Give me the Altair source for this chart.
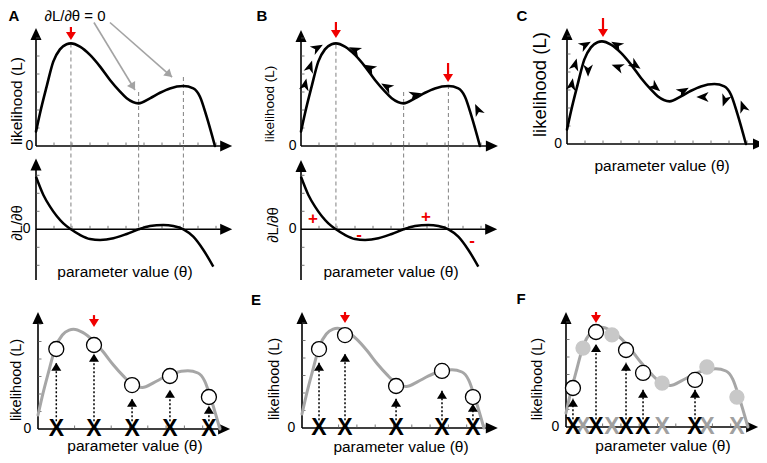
import math
import altair as alt
import pandas as pd

FONT = "Liberation Sans"

# ---------------- values ----------------
# likelihood curve L(theta)
curve_theta = [0.0, 0.22, 0.59, 0.96, 1.33, 1.70, 1.94, 2.44, 3.00, 3.56, 4.11, 4.67,
               5.04, 5.70, 6.33, 6.89, 7.44, 8.19, 8.74, 9.11, 9.48, 9.94]
curve_L = [0.80, 1.81, 3.30, 4.69, 5.37, 5.65, 5.70, 5.52, 5.06, 4.41, 3.67, 3.02,
           2.65, 2.37, 2.65, 2.96, 3.20, 3.33, 3.20, 2.74, 1.63, 0.00]

# derivative dL/dtheta
deriv_theta = [0.0, 0.41, 0.78, 1.15, 1.52, 1.94, 2.44, 3.00, 3.56, 4.30, 5.04, 5.70,
               6.33, 7.07, 7.63, 8.19, 8.74, 9.30, 9.85]
deriv_val = [2.92, 1.91, 1.26, 0.74, 0.33, 0.00, -0.31, -0.54, -0.59, -0.50, -0.26, 0.00,
             0.18, 0.24, 0.18, 0.00, -0.41, -1.15, -2.07]

# stationary points (dL/dtheta = 0) and the top of their guides
stat_theta = [1.94, 5.70, 8.19]
guide_top_A = [5.70, 3.00, 3.83]
guide_top_B = [5.62, 3.00, 3.39]

# red arrows marking the maxima found
red_panel = ["A", "B", "B", "C", "D", "E", "F"]
red_theta = [1.94, 1.94, 8.17, 2.00, 3.06, 2.35, 1.64]
red_top = [6.61, 6.89, 4.61, 7.00, 6.51, 6.63, 6.57]
red_tip = [5.89, 6.00, 3.56, 5.94, 5.83, 6.00, 5.94]

# signs of the derivative (panel B)
sign_text = ["+", "-", "+", "-"]
sign_theta = [0.67, 3.22, 6.94, 9.50]
sign_val = [0.57, -0.32, 0.68, -0.65]

# hill-climbing steps (direction in degrees, clockwise from up)
chevB_theta = [0.22, 0.50, 0.89, 3.00, 3.83, 4.78, 6.33, 9.83]
chevB_L = [3.39, 4.39, 5.44, 5.33, 4.33, 3.28, 2.83, 2.00]
chevB_dir = [12, 18, 60, 295, 300, 300, 75, 335]

chevC_theta = [0.26, 0.44, 1.00, 1.17, 2.78, 2.83, 3.78, 4.89, 6.44, 7.56, 8.78, 9.78]
chevC_L = [3.28, 4.39, 5.50, 4.11, 5.50, 4.28, 4.39, 3.17, 2.94, 2.61, 2.44, 2.06]
chevC_dir = [10, 15, 60, 180, 300, 290, 125, 130, 60, 270, 200, 340]

# sampled parameter values (D, E, F)
D_theta = [1.00, 3.06, 5.14, 7.21, 9.34]
D_L = [4.57, 4.80, 2.51, 3.03, 1.83]
D_tip = [3.78, 4.30, 1.73, 2.24, 1.33]
E_theta = [0.93, 2.35, 5.14, 7.65, 9.34]
E_L = [4.51, 5.31, 2.40, 3.26, 1.77]
E_tip = [3.73, 4.24, 1.67, 2.13, 1.38]
F_theta = [0.38, 1.64, 3.28, 4.21, 7.05]
F_L = [2.23, 5.43, 4.40, 3.09, 2.69]
F_tip = [1.61, 4.75, 3.67, 2.13, 2.13]
F_prev_theta = [0.93, 2.51, 5.25, 7.70, 9.34]
F_prev_L = [4.51, 5.26, 2.51, 3.43, 1.71]

# ---------------- layout: each panel's scale origin / unit size ----------------
PAD = 8
OFF = 8 + PAD  # page margin + padding
PANELS = {
    "A": dict(ox=36, oy=146, kx=18, ky=18),
    "Ad": dict(ox=36, oy=229.3, kx=18, ky=18),
    "B": dict(ox=301, oy=146, kx=18, ky=18),
    "Bd": dict(ox=301, oy=229.3, kx=18, ky=18),
    "C": dict(ox=567, oy=144, kx=18, ky=18),
    "D": dict(ox=38, oy=429, kx=18.3, ky=17.5),
    "E": dict(ox=302, oy=428, kx=18.3, ky=17.5),
    "F": dict(ox=566, oy=427, kx=18.3, ky=17.5),
}

ARROW = "M0,0 L0.85,1.85 L-0.85,1.85 Z"
HEAD = "M0,0 L1,1.6 L-1,1.6 Z"
CHEV = "M0,-1.1 L0.8,0.9 L0,0.35 L-0.8,0.9 Z"

layers = []


def add(p, data, mark, x="x", y="y", x2=None, y2=None, **enc):
    P = PANELS[p]
    ox, oy = P["ox"] - OFF, P["oy"] - OFF
    xs = alt.Scale(domain=[0, 1], range=[ox, ox + P["kx"]], nice=False, zero=False)
    ys = alt.Scale(domain=[0, 1], range=[oy, oy - P["ky"]], nice=False, zero=False)
    e = dict(x=alt.X(f"{x}:Q", scale=xs, axis=None),
             y=alt.Y(f"{y}:Q", scale=ys, axis=None))
    if x2:
        e["x2"] = alt.X2(f"{x2}:Q")
    if y2:
        e["y2"] = alt.Y2(f"{y2}:Q")
    e.update(enc)
    layers.append(alt.Chart(pd.DataFrame(data), mark=alt.MarkDef(**mark)).encode(**e))


def txt(p, x, y, s, size, **kw):
    add(p, {"x": [x], "y": [y], "t": [s]},
        dict(type="text", font=FONT, fontSize=size, color="black", **kw),
        text=alt.Text("t:N"))


def axes(p, xmax, ymin, ymax, yt):
    P = PANELS[p]
    add(p, {"x": [0], "x2": [xmax - 4 / P["kx"]], "y": [0]},
        dict(type="rule", color="black", strokeWidth=1.6), x2="x2")
    add(p, {"x": [0], "y": [ymin], "y2": [ymax - 4 / P["ky"]]},
        dict(type="rule", color="black", strokeWidth=1.6), y2="y2")
    add(p, {"x": [xmax, 0], "y": [0, ymax], "a": [90, 0]},
        dict(type="point", shape=ARROW, size=169, filled=True, color="black",
             opacity=1, strokeWidth=0),
        angle=alt.Angle("a:Q", scale=None))
    xt = list(range(1, 11))
    add(p, {"x": xt, "y": [0] * len(xt), "y2": [3.5 / P["ky"]] * len(xt)},
        dict(type="rule", color="#555", strokeWidth=0.8), y2="y2")
    add(p, {"x": [0] * len(yt), "x2": [3.5 / P["kx"]] * len(yt), "y": yt},
        dict(type="rule", color="#555", strokeWidth=0.8), x2="x2")


def curve(p, color, width):
    add(p, {"x": curve_theta, "y": curve_L},
        dict(type="line", color=color, strokeWidth=width, interpolate="monotone",
             strokeCap="round", strokeJoin="round"))


def deriv(p):
    add(p, {"x": deriv_theta, "y": deriv_val},
        dict(type="line", color="black", strokeWidth=2.5, interpolate="monotone"))


def guides(p, pd_, tops):
    add(p, {"x": stat_theta, "y": tops, "y2": [0] * 3},
        dict(type="rule", color="#8c8c8c", strokeWidth=1.1, strokeDash=[4, 3]), y2="y2")
    add(pd_, {"x": stat_theta, "y": [4.6] * 3, "y2": [0] * 3},
        dict(type="rule", color="#8c8c8c", strokeWidth=1.1, strokeDash=[4, 3]), y2="y2")


def red_arrows(p):
    idx = [i for i, q in enumerate(red_panel) if q == p]
    P = PANELS[p]
    xs = [red_theta[i] for i in idx]
    add(p, {"x": xs, "y": [red_top[i] for i in idx],
            "y2": [red_tip[i] + 5 / P["ky"] for i in idx]},
        dict(type="rule", color="#f00000", strokeWidth=2.2), y2="y2")
    add(p, {"x": xs, "y": [red_tip[i] for i in idx], "a": [180] * len(idx)},
        dict(type="point", shape=HEAD, size=100, filled=True, color="#f00000",
             opacity=1, strokeWidth=0),
        angle=alt.Angle("a:Q", scale=None))


def chevrons(p, xs, ys, dirs):
    add(p, {"x": xs, "y": ys, "a": dirs},
        dict(type="point", shape=CHEV, size=150, filled=True, color="black",
             opacity=1, strokeWidth=0),
        angle=alt.Angle("a:Q", scale=None))


def samples(p, xs, ls, tips, grey=False):
    n = len(xs)
    col = "#a0a0a0" if grey else "black"
    if not grey:
        add(p, {"x": xs, "y": [0.45] * n, "y2": tips},
            dict(type="rule", color="black", strokeWidth=1.5, strokeDash=[2, 2]), y2="y2")
        add(p, {"x": xs, "y": tips},
            dict(type="point", shape=HEAD, size=100, filled=True, color="black",
                 opacity=1, strokeWidth=0))
    add(p, {"x": xs, "y": [0] * n, "t": ["X"] * n},
        dict(type="text", font=FONT, fontSize=23, fontWeight="bold", color=col,
             baseline="middle", align="center"),
        text=alt.Text("t:N"))
    if grey:
        add(p, {"x": xs, "y": ls},
            dict(type="point", shape="circle", size=235, filled=True, color="#c8c8c8",
                 opacity=1, strokeWidth=0))
    else:
        add(p, {"x": xs, "y": ls},
            dict(type="point", shape="circle", size=225, fill="white", stroke="black",
                 strokeWidth=1.3, opacity=1, fillOpacity=1))


# ---------------- panel A ----------------
axes("A", 10.9, 0, 6.56, [1, 2, 3, 4, 5, 6])
axes("Ad", 10.9, -2.82, 3.94, [-2, -1, 1, 2, 3])
guides("A", "Ad", guide_top_A)
curve("A", "black", 2.6)
deriv("Ad")
red_arrows("A")
# pointers from the label to the stationary points
ptr_x = [3.22, 4.11]
ptr_y = [6.86, 6.86]
ptr_x2 = [5.50, 7.56]
ptr_y2 = [3.11, 3.83]
ptr_a = [math.degrees(math.atan2((b - a) * 18, (d - c) * 18))
         for a, b, c, d in zip(ptr_x, ptr_x2, ptr_y, ptr_y2)]
add("A", {"x": ptr_x, "y": ptr_y, "x2": ptr_x2, "y2": ptr_y2},
    dict(type="rule", color="#a3a3a3", strokeWidth=1.6), x2="x2", y2="y2")
add("A", {"x": ptr_x2, "y": ptr_y2, "a": ptr_a},
    dict(type="point", shape=HEAD, size=90, filled=True, color="#a3a3a3",
         opacity=1, strokeWidth=0),
    angle=alt.Angle("a:Q", scale=None))
txt("A", -1.22, 7.2, "A", 15, fontWeight="bold", baseline="middle", align="center")
txt("A", 2.17, 7.2, "\u2202L/\u2202\u03b8 = 0", 15, baseline="middle", align="center")
txt("A", -1.08, 2.5, "likelihood (L)", 15.5, angle=270, baseline="middle", align="center")
txt("A", -0.15, 0, "0", 14, baseline="middle", align="right")
txt("Ad", -1.06, 0.35, "\u2202L/\u2202\u03b8", 15, angle=270, baseline="middle", align="center")
txt("Ad", -0.3, 0, "0", 14, baseline="middle", align="right")
txt("Ad", 4.94, -2.37, "parameter value (\u03b8)", 15.5, baseline="middle", align="center")

# ---------------- panel B ----------------
axes("B", 10.94, 0, 6.44, [1, 2, 3, 4, 5, 6])
axes("Bd", 10.9, -2.82, 3.85, [-2, -1, 1, 2, 3])
guides("B", "Bd", guide_top_B)
curve("B", "black", 2.6)
deriv("Bd")
chevrons("B", chevB_theta, chevB_L, chevB_dir)
red_arrows("B")
add("Bd", {"x": sign_theta, "y": sign_val, "t": sign_text},
    dict(type="text", font=FONT, fontSize=17, fontWeight="bold", color="#f00000",
         baseline="middle", align="center"),
    text=alt.Text("t:N"))
txt("B", -2.17, 7.2, "B", 15, fontWeight="bold", baseline="middle", align="center")
txt("B", -1.72, 2.33, "likelihood (L)", 13.5, angle=270, baseline="middle", align="center")
txt("B", -0.25, 0, "0", 14, baseline="middle", align="right")
txt("Bd", -1.56, 0.24, "\u2202L/\u2202\u03b8", 15, angle=270, baseline="middle", align="center")
txt("Bd", -0.25, 0, "0", 14, baseline="middle", align="right")
txt("Bd", 5.0, -2.37, "parameter value (\u03b8)", 15.5, baseline="middle", align="center")

# ---------------- panel C ----------------
axes("C", 11.0, 0, 6.44, [1, 2, 3, 4, 5, 6])
curve("C", "black", 2.6)
chevrons("C", chevC_theta, chevC_L, chevC_dir)
red_arrows("C")
txt("C", -2.5, 7.1, "C", 15, fontWeight="bold", baseline="middle", align="center")
txt("C", -1.5, 3.3, "likelihood (L)", 18.5, angle=270, baseline="middle", align="center")
txt("C", -0.28, 0, "0", 14, baseline="middle", align="right")
txt("C", 5.28, -1.22, "parameter value (\u03b8)", 15.5, baseline="middle", align="center")

# ---------------- panels D, E, F ----------------
for p, xmax, ymax in [("D", 10.5, 6.69), ("E", 10.7, 6.63), ("F", 10.5, 6.57)]:
    axes(p, xmax, 0, ymax, [1, 2, 3, 4, 5, 6])
    curve(p, "#a6a6a6", 3)

samples("D", D_theta, D_L, D_tip)
samples("E", E_theta, E_L, E_tip)
samples("F", F_prev_theta, F_prev_L, None, grey=True)
samples("F", F_theta, F_L, F_tip)
for p in ["D", "E", "F"]:
    red_arrows(p)

txt("D", -1.15, 2.8, "likelihood (L)", 14.5, angle=270, baseline="middle", align="center")
txt("D", -0.36, 0, "0", 14, baseline="middle", align="right")
txt("D", 5.3, -0.97, "parameter value (\u03b8)", 15.5, baseline="middle", align="center")
txt("E", -2.51, 7.31, "E", 15, fontWeight="bold", baseline="middle", align="center")
txt("E", -1.48, 2.8, "likelihood (L)", 14.5, angle=270, baseline="middle", align="center")
txt("E", -0.36, 0, "0", 14, baseline="middle", align="right")
txt("E", 5.41, -1.09, "parameter value (\u03b8)", 15.5, baseline="middle", align="center")
txt("F", -2.46, 7.31, "F", 15, fontWeight="bold", baseline="middle", align="center")
txt("F", -1.53, 2.74, "likelihood (L)", 14.5, angle=270, baseline="middle", align="center")
txt("F", -0.36, 0, "0", 14, baseline="middle", align="right")
txt("F", 5.3, -1.09, "parameter value (\u03b8)", 15.5, baseline="middle", align="center")

chart = (
    alt.layer(*layers)
    .resolve_scale(x="independent", y="independent")
    .properties(width=767 - 16 - 2 * PAD, height=463 - 16 - 2 * PAD, padding=PAD,
                autosize=alt.AutoSizeParams(type="none"))
    .configure_view(stroke=None)
)

chart.save("out.html", embed_options={"renderer": "svg", "actions": False})
